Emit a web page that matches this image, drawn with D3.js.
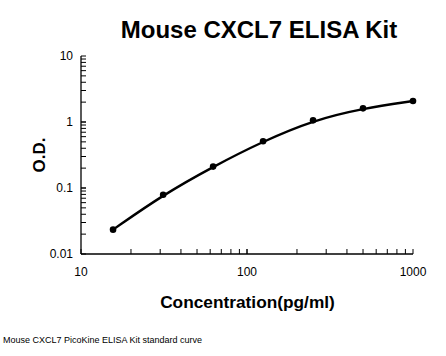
<!DOCTYPE html>
<html><head><meta charset="utf-8">
<script src="https://cdn.jsdelivr.net/npm/d3@7"></script>
<style>body{margin:0;background:#fff}svg{display:block}text{font-family:"Liberation Sans",Arial,sans-serif}</style>
</head><body>
<script>
const concentrations = [15.6, 31.25, 62.5, 125, 250, 500, 1000];
const odValues = [0.0234, 0.079, 0.211, 0.51, 1.06, 1.61, 2.08];
const xTickValues = [10, 100, 1000];
const yTickValues = [0.01, 0.1, 1, 10];
const yTickLabels = ["0.01", "0.1", "1", "10"];
const titleText = "Mouse CXCL7 ELISA Kit";
const xTitle = "Concentration(pg/ml)";
const yTitle = "O.D.";
const footnote = "Mouse CXCL7 PicoKine ELISA Kit standard curve";

const W = 446, H = 356;
const svg = d3.select("body").append("svg").attr("width", W).attr("height", H);
const x = d3.scaleLog().domain([10, 1000]).range([81, 413]);
const y = d3.scaleLog().domain([0.01, 10]).range([254, 56]);

const xMinor = [];
for (let d = 10; d < 1000; d *= 10) for (let k = 1; k <= 10; k++) xMinor.push(d * k);
const yMinor = [];
for (let d = 0.01; d < 10; d *= 10) for (let k = 1; k <= 10; k++) yMinor.push(+(d * k).toPrecision(3));

const g = svg.append("g");
g.selectAll(".xt").data(xMinor).enter().append("line")
  .attr("x1", d => x(d)).attr("x2", d => x(d)).attr("y1", 254).attr("y2", 249)
  .attr("stroke", "#000").attr("stroke-width", 1);
g.selectAll(".yt").data(yMinor).enter().append("line")
  .attr("y1", d => y(d)).attr("y2", d => y(d)).attr("x1", 81).attr("x2", 86)
  .attr("stroke", "#000").attr("stroke-width", 1);
g.append("line").attr("x1", 81).attr("x2", 413).attr("y1", 254).attr("y2", 254).attr("stroke", "#000").attr("stroke-width", 1.3);
g.append("line").attr("x1", 81).attr("x2", 81).attr("y1", 56).attr("y2", 254).attr("stroke", "#000").attr("stroke-width", 1.3);

g.selectAll(".xl").data(xTickValues).enter().append("text")
  .attr("x", d => x(d)).attr("y", 276).attr("text-anchor", "middle")
  .attr("font-size", 12).text(d => d);
g.selectAll(".yl").data(yTickValues).enter().append("text")
  .attr("x", 73).attr("y", d => y(d) + 4).attr("text-anchor", "end")
  .attr("font-size", 12).text((d, i) => yTickLabels[i]);

const line = d3.line().x(d => x(d[0])).y(d => y(d[1])).curve(d3.curveBasis);
const pts = concentrations.map((c, i) => [c, odValues[i]]);
svg.append("path").attr("d", line(pts)).attr("fill", "none").attr("stroke", "#000").attr("stroke-width", 2.4);
svg.selectAll(".pt").data(pts).enter().append("circle")
  .attr("cx", d => x(d[0])).attr("cy", d => y(d[1])).attr("r", 3.3).attr("fill", "#000");

svg.append("text").attr("x", 259).attr("y", 38).attr("text-anchor", "middle")
  .attr("font-size", 24).attr("font-weight", "bold").text(titleText);
svg.append("text").attr("x", 247.5).attr("y", 308).attr("text-anchor", "middle")
  .attr("font-size", 17.3).attr("font-weight", "bold").text(xTitle);
svg.append("text").attr("transform", "translate(45,155) rotate(-90)").attr("text-anchor", "middle")
  .attr("font-size", 17).attr("font-weight", "bold").text(yTitle);
svg.append("text").attr("x", 3).attr("y", 343).attr("font-size", 9)
  .attr("font-family", "'Open Sans',sans-serif").text(footnote);
</script>
</body></html>
